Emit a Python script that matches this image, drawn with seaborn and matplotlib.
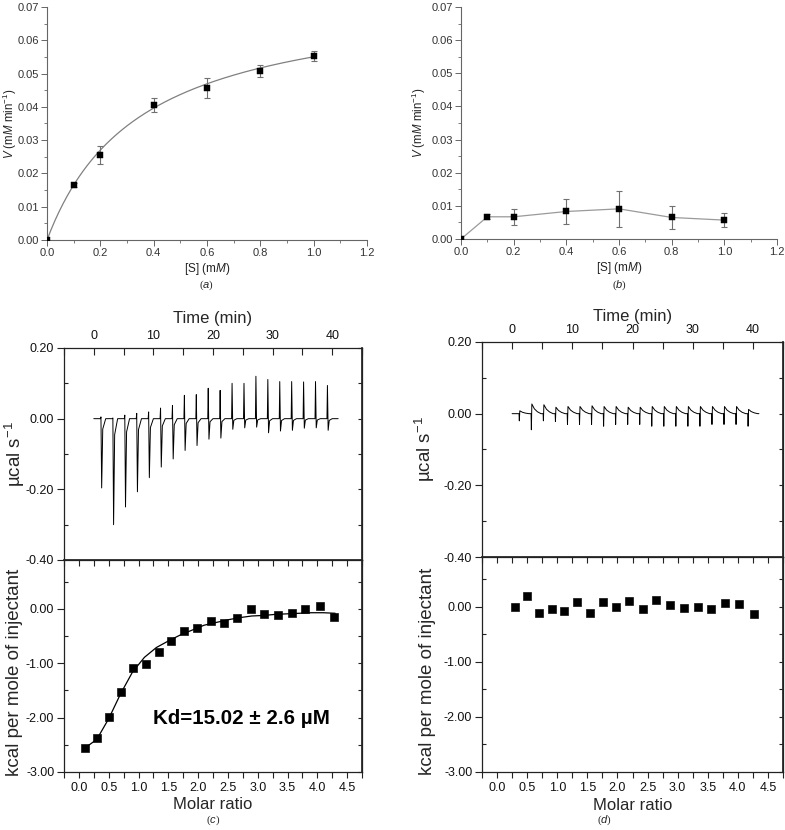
import numpy as np
import matplotlib
matplotlib.use("Agg")
import matplotlib.pyplot as plt
import seaborn as sns
from matplotlib.ticker import MultipleLocator, FormatStrFormatter

# (a) / (b): initial rate vs substrate
substrate = [0.0, 0.1, 0.2, 0.4, 0.6, 0.8, 1.0]
rate_a = [0.0, 0.0165, 0.0255, 0.0405, 0.0457, 0.0508, 0.0553]
err_a = [0.0, 0.0005, 0.0026, 0.0021, 0.0029, 0.0017, 0.0016]
rate_b = [0.0, 0.0067, 0.0067, 0.0083, 0.0091, 0.0065, 0.0057]
err_b = [0.0, 0.0008, 0.0025, 0.0037, 0.0055, 0.0036, 0.0021]
vmax_a, km_a = 0.0743, 0.35  # Michaelis-Menten fit shown in (a)

# (c) / (d): ITC raw thermograms (injection times, spike extremes)
inj_time = [1.2, 3.2, 5.2, 7.2, 9.2, 11.2, 13.2, 15.2, 17.2, 19.2,
            21.2, 23.2, 25.2, 27.2, 29.2, 31.2, 33.2, 35.2, 37.2, 39.2]
up_c = [0.005, 0.002, 0.010, 0.015, 0.019, 0.030, 0.037, 0.066, 0.068, 0.086,
        0.080, 0.100, 0.100, 0.120, 0.111, 0.105, 0.105, 0.104, 0.105, 0.094]
dn_c = [-0.196, -0.300, -0.250, -0.207, -0.167, -0.137, -0.114, -0.090, -0.076, -0.058,
        -0.055, -0.030, -0.026, -0.024, -0.040, -0.035, -0.033, -0.027, -0.026, -0.033]
up_d = [0.008, 0.027, 0.025, 0.018, 0.020, 0.020, 0.022, 0.020, 0.020, 0.018,
        0.018, 0.020, 0.020, 0.020, 0.020, 0.020, 0.020, 0.020, 0.020, 0.012]
dn_d = [-0.020, -0.045, -0.020, -0.022, -0.030, -0.030, -0.030, -0.035, -0.030, -0.030,
        -0.030, -0.035, -0.035, -0.035, -0.035, -0.035, -0.030, -0.030, -0.030, -0.035]

# (c) / (d): integrated heats
ratio_c = [0.10, 0.30, 0.50, 0.70, 0.91, 1.12, 1.34, 1.55, 1.77, 1.98,
           2.21, 2.43, 2.65, 2.88, 3.11, 3.34, 3.57, 3.80, 4.04, 4.28]
heat_c = [-2.55, -2.38, -1.99, -1.53, -1.08, -1.01, -0.79, -0.59, -0.41, -0.35,
          -0.22, -0.25, -0.16, -0.01, -0.09, -0.12, -0.08, 0.00, 0.05, -0.15]
fit_ratio_c = [0.10, 0.30, 0.50, 0.70, 0.90, 1.10, 1.30, 1.50, 1.70, 1.90, 2.10,
               2.30, 2.50, 2.70, 2.90, 3.10, 3.30, 3.50, 3.70, 3.90, 4.10, 4.30]
fit_heat_c = [-2.56, -2.40, -2.02, -1.56, -1.16, -0.89, -0.71, -0.59, -0.48, -0.39, -0.30,
              -0.25, -0.20, -0.16, -0.13, -0.12, -0.10, -0.09, -0.08, -0.07, -0.07, -0.08]
ratio_d = [0.30, 0.49, 0.70, 0.91, 1.12, 1.33, 1.54, 1.76, 1.98, 2.20,
           2.42, 2.64, 2.87, 3.10, 3.33, 3.55, 3.79, 4.02, 4.26]
heat_d = [-0.01, 0.20, -0.12, -0.04, -0.08, 0.09, -0.11, 0.08, -0.01, 0.10,
          -0.05, 0.12, 0.03, -0.03, -0.01, -0.04, 0.06, 0.04, -0.14]

sns.set_theme(style="ticks")
plt.rcParams["font.family"] = ["Liberation Sans", "DejaVu Sans"]
plt.rcParams["mathtext.fontset"] = "custom"
plt.rcParams["mathtext.rm"] = "Liberation Sans"
plt.rcParams["mathtext.it"] = "Liberation Sans:italic"
plt.rcParams["axes.unicode_minus"] = False

W, H = 785, 830
fig = plt.figure(figsize=(W / 100, H / 100), dpi=100)


def box(l, t, r, b):
    return [l / W, 1 - b / H, (r - l) / W, (b - t) / H]


def kinetics(ax, y, err, fit):
    ax.set_xlim(0, 1.2)
    ax.set_ylim(0, 0.07)
    if fit:
        xs = np.linspace(0, 1.0, 200)
        sns.lineplot(x=xs, y=vmax_a * xs / (km_a + xs), ax=ax, color="#808080", lw=0.9)
    else:
        sns.lineplot(x=substrate, y=y, ax=ax, color="#9a9a9a", lw=0.9)
    ax.errorbar(substrate, y, yerr=err, fmt="none", ecolor="#707070", elinewidth=0.8,
                capsize=2, capthick=0.8)
    sns.scatterplot(x=substrate, y=y, ax=ax, marker="s", s=16, color="black",
                    edgecolor="black", zorder=5)
    for s in ["top", "right"]:
        ax.spines[s].set_visible(False)
    for s in ["left", "bottom"]:
        ax.spines[s].set_color("#666666")
        ax.spines[s].set_linewidth(0.8)
    ax.xaxis.set_major_locator(MultipleLocator(0.2))
    ax.xaxis.set_minor_locator(MultipleLocator(0.1))
    ax.yaxis.set_major_locator(MultipleLocator(0.01))
    ax.yaxis.set_minor_locator(MultipleLocator(0.005))
    ax.xaxis.set_major_formatter(FormatStrFormatter("%.1f"))
    ax.yaxis.set_major_formatter(FormatStrFormatter("%.2f"))
    ax.tick_params(which="major", direction="out", length=4, width=0.7, color="#666666",
                   labelsize=8, labelcolor="#333333", pad=2)
    ax.tick_params(which="minor", direction="out", length=2.5, width=0.6, color="#666666")
    ax.set_xlabel("[S] (m$M$)", fontsize=8.5, color="#222222")
    ax.set_ylabel("$V$ (m$M$ min$^{-1}$)", fontsize=8.3, color="#222222")


ax_a = fig.add_axes(box(47, 7, 367, 240))
kinetics(ax_a, rate_a, err_a, True)
ax_a.xaxis.set_label_coords(0.5, -0.09)
ax_a.yaxis.set_label_coords(-0.088, 0.5)
ax_b = fig.add_axes(box(461, 7, 777, 239))
kinetics(ax_b, rate_b, err_b, False)
ax_b.xaxis.set_label_coords(0.5, -0.09)
ax_b.yaxis.set_label_coords(-0.104, 0.5)

fig.text(207 / W, 1 - 285 / H, "($a$)", ha="center", va="center", fontsize=8,
         family="Liberation Serif")
fig.text(620 / W, 1 - 285 / H, "($b$)", ha="center", va="center", fontsize=8,
         family="Liberation Serif")


def thermogram(times, up, dn, kind):
    t, y = [0.0], [0.0]
    for ti, u, d in zip(times, up, dn):
        if kind == "c":
            t += [ti - 0.08, ti, ti + 0.12, ti + 0.3, ti + 0.8]
            y += [0.0, u, d, d * 0.15, 0.0]
        else:
            t += [ti - 0.05, ti, ti + 0.08, ti + 0.5, ti + 1.0, ti + 1.6]
            y += [0.0, d, u, u * 0.5, u * 0.2, 0.0]
    t.append(41.0)
    y.append(0.0)
    return t, y


def itc(top_box, bot_box, times, up, dn, kind, ratio, heat, fit_x=None, fit_y=None):
    ax1 = fig.add_axes(top_box)
    ax2 = fig.add_axes(bot_box)
    t, y = thermogram(times, up, dn, kind)
    sns.lineplot(x=t, y=y, ax=ax1, sort=False, estimator=None, color="black", lw=0.7)
    ax1.set_xlim(-5, 45)
    ax1.set_ylim(-0.40, 0.20)
    ax1.xaxis.tick_top()
    ax1.xaxis.set_label_position("top")
    ax1.xaxis.set_major_locator(MultipleLocator(10))
    ax1.xaxis.set_minor_locator(MultipleLocator(5))
    ax1.yaxis.set_major_locator(MultipleLocator(0.2))
    ax1.yaxis.set_minor_locator(MultipleLocator(0.1))
    ax1.yaxis.set_major_formatter(FormatStrFormatter("%.2f"))
    ax1.tick_params(axis="x", which="both", direction="in", top=True, bottom=False,
                    labeltop=True, labelbottom=False)
    ax1.tick_params(axis="x", which="major", length=5, labelsize=9, pad=4)
    ax1.tick_params(axis="x", which="minor", length=5)
    ax1.tick_params(axis="y", which="major", direction="out", length=5, labelsize=9, pad=2)
    ax1.tick_params(axis="y", which="minor", direction="in", length=3)
    r1 = ax1.secondary_yaxis("right")
    r1.yaxis.set_major_locator(MultipleLocator(0.1))
    r1.tick_params(direction="in", length=3, labelright=False)
    ax1.set_xlabel("Time (min)", fontsize=12)
    ax1.set_ylabel("µcal s$^{-1}$", fontsize=13.5)

    if fit_x is not None:
        sns.lineplot(x=fit_x, y=fit_y, ax=ax2, color="black", lw=0.9)
    sns.scatterplot(x=ratio, y=heat, ax=ax2, marker="s", s=30, color="black",
                    edgecolor="black", zorder=5)
    ax2.set_xlim(-0.25, 4.75)
    ax2.set_ylim(-3.0, 0.9)
    ax2.xaxis.set_major_locator(MultipleLocator(0.5))
    ax2.xaxis.set_minor_locator(MultipleLocator(0.25))
    ax2.xaxis.set_major_formatter(FormatStrFormatter("%.1f"))
    ax2.yaxis.set_major_locator(MultipleLocator(1.0))
    ax2.yaxis.set_minor_locator(MultipleLocator(0.5))
    ax2.yaxis.set_major_formatter(FormatStrFormatter("%.2f"))
    ax2.tick_params(axis="x", which="both", direction="out", length=4, labelsize=9, pad=3)
    ax2.tick_params(axis="y", which="major", direction="out", length=5, labelsize=9, pad=2)
    ax2.tick_params(axis="y", which="minor", direction="in", length=3)
    r2 = ax2.secondary_yaxis("right")
    r2.yaxis.set_major_locator(MultipleLocator(0.5))
    r2.tick_params(direction="in", length=3, labelright=False)
    t2 = ax2.secondary_xaxis("top")
    t2.xaxis.set_major_locator(MultipleLocator(0.25))
    t2.tick_params(direction="in", length=4, labeltop=False)
    ax2.set_xlabel("Molar ratio", fontsize=12)
    ax2.set_ylabel("kcal per mole of injectant", fontsize=13.5)

    for ax in (ax1, ax2):
        for s in ax.spines.values():
            s.set_color("#222222")
            s.set_linewidth(0.9)
        ax.tick_params(which="both", color="#222222", labelcolor="#111111", width=0.8)
    for sec in (r1, r2, t2):
        sec.spines[list(sec.spines.keys())[0]].set_visible(False)
        sec.tick_params(color="#222222", width=0.8)
    return ax1, ax2


c1, c2 = itc(box(64, 348, 362, 560), box(64, 560, 362, 772), inj_time, up_c, dn_c, "c",
             ratio_c, heat_c, fit_ratio_c, fit_heat_c)
c1.xaxis.set_label_coords(0.5, 1.12)
c1.yaxis.set_label_coords(-0.124, 0.5)
c2.xaxis.set_label_coords(0.5, -0.12)
c2.yaxis.set_label_coords(-0.136, 0.47)
c2.text(0.594, 0.25, "Kd=15.02 ± 2.6 µM", transform=c2.transAxes, ha="center",
        va="center", fontsize=14.8, fontweight="bold", color="black")

d1, d2 = itc(box(482, 342, 783, 557), box(482, 557, 783, 772), inj_time, up_d, dn_d, "d",
             ratio_d, heat_d)
d1.xaxis.set_label_coords(0.5, 1.10)
d1.yaxis.set_label_coords(-0.15, 0.5)
d2.xaxis.set_label_coords(0.5, -0.12)
d2.yaxis.set_label_coords(-0.153, 0.47)

fig.text(213 / W, 1 - 820 / H, "($c$)", ha="center", va="center", fontsize=8,
         family="Liberation Serif")
fig.text(605 / W, 1 - 820 / H, "($d$)", ha="center", va="center", fontsize=8,
         family="Liberation Serif")

fig.savefig("out.png", dpi=100)
